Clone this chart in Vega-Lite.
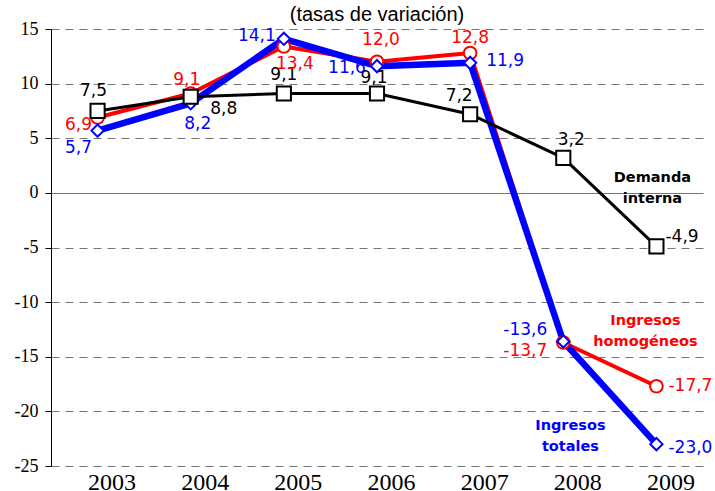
{
  "$schema": "https://vega.github.io/schema/vega-lite/v6.json",
  "autosize": {"type": "none"},
  "padding": {"left": 51, "top": 29, "right": 12, "bottom": 25},
  "width": 652,
  "height": 437,
  "background": "white",
  "title": {"text": "(tasas de variación)", "font": "Liberation Sans", "fontSize": 20, "fontWeight": "normal", "color": "black", "anchor": "middle", "offset": -5},
  "config": {
    "view": {"stroke": null},
    "locale": {"number": {"decimal": ",", "thousands": ".", "grouping": [3], "currency": ["", " €"], "minus": "-"}}
  },
  "data": {"values": [
    {"anio": "2003", "serie": "Demanda interna", "valor": 7.5},
    {"anio": "2004", "serie": "Demanda interna", "valor": 8.8},
    {"anio": "2005", "serie": "Demanda interna", "valor": 9.1},
    {"anio": "2006", "serie": "Demanda interna", "valor": 9.1},
    {"anio": "2007", "serie": "Demanda interna", "valor": 7.2},
    {"anio": "2008", "serie": "Demanda interna", "valor": 3.2},
    {"anio": "2009", "serie": "Demanda interna", "valor": -4.9},
    {"anio": "2003", "serie": "Ingresos homogéneos", "valor": 6.9},
    {"anio": "2004", "serie": "Ingresos homogéneos", "valor": 9.1},
    {"anio": "2005", "serie": "Ingresos homogéneos", "valor": 13.4},
    {"anio": "2006", "serie": "Ingresos homogéneos", "valor": 12.0},
    {"anio": "2007", "serie": "Ingresos homogéneos", "valor": 12.8},
    {"anio": "2008", "serie": "Ingresos homogéneos", "valor": -13.7},
    {"anio": "2009", "serie": "Ingresos homogéneos", "valor": -17.7},
    {"anio": "2003", "serie": "Ingresos totales", "valor": 5.7},
    {"anio": "2004", "serie": "Ingresos totales", "valor": 8.2},
    {"anio": "2005", "serie": "Ingresos totales", "valor": 14.1},
    {"anio": "2006", "serie": "Ingresos totales", "valor": 11.6},
    {"anio": "2007", "serie": "Ingresos totales", "valor": 11.9},
    {"anio": "2008", "serie": "Ingresos totales", "valor": -13.6},
    {"anio": "2009", "serie": "Ingresos totales", "valor": -23.0}
  ]},
  "encoding": {
    "x": {"field": "anio", "type": "ordinal", "scale": {"type": "point", "padding": 0.5},
      "axis": {"title": null, "domain": false, "ticks": false, "grid": false, "labelAngle": 0, "labelFont": "serif", "labelFontSize": 24, "labelColor": "black", "labelOffset": 14, "labelPadding": 4}},
    "y": {"field": "valor", "type": "quantitative", "scale": {"domain": [-25, 15], "nice": false, "zero": false},
      "axis": {"title": null, "values": [-25, -20, -15, -10, -5, 0, 5, 10, 15], "labelFont": "serif", "labelFontSize": 18, "labelColor": "black", "labelPadding": 7, "domainColor": "black", "domainWidth": 1, "tickColor": "black", "tickSize": 6, "grid": true, "gridColor": "#777777", "gridWidth": 1,
        "gridDash": {"condition": {"test": "datum.value === 0", "value": []}, "value": [8, 6]}}}
  },
  "layer": [
    {"transform": [{"filter": "datum.serie === 'Ingresos homogéneos'"}], "mark": {"type": "line", "color": "#ff0000", "strokeWidth": 4, "strokeJoin": "round"}},
    {"transform": [{"filter": "datum.serie === 'Ingresos totales'"}], "mark": {"type": "line", "color": "#0000ff", "strokeWidth": 6.5, "strokeJoin": "round"}},
    {"transform": [{"filter": "datum.serie === 'Demanda interna'"}], "mark": {"type": "line", "color": "#000000", "strokeWidth": 3, "strokeJoin": "round"}},
    {"transform": [{"filter": "datum.serie === 'Ingresos homogéneos'"}], "mark": {"type": "point", "shape": "circle", "filled": true, "fill": "white", "stroke": "#ff0000", "strokeWidth": 2, "size": 160, "opacity": 1}},
    {"transform": [{"filter": "datum.serie === 'Ingresos totales'"}], "mark": {"type": "point", "shape": "diamond", "filled": true, "fill": "white", "stroke": "#0000ff", "strokeWidth": 2, "size": 150, "opacity": 1}},
    {"transform": [{"filter": "datum.serie === 'Demanda interna'"}], "mark": {"type": "point", "shape": "square", "filled": true, "fill": "white", "stroke": "#000000", "strokeWidth": 2, "size": 200, "opacity": 1}},

    {"transform": [{"filter": "datum.serie === 'Demanda interna' && datum.anio === '2003'"}], "mark": {"type": "text", "dx": -4, "dy": -20, "font": "DejaVu Sans", "fontSize": 17, "color": "#000000"}, "encoding": {"text": {"field": "valor", "type": "quantitative", "format": ".1f"}}},
    {"transform": [{"filter": "datum.serie === 'Demanda interna' && datum.anio === '2004'"}], "mark": {"type": "text", "dx": 33, "dy": 12, "font": "DejaVu Sans", "fontSize": 17, "color": "#000000"}, "encoding": {"text": {"field": "valor", "type": "quantitative", "format": ".1f"}}},
    {"transform": [{"filter": "datum.serie === 'Demanda interna' && datum.anio === '2005'"}], "mark": {"type": "text", "dx": 0, "dy": -18, "font": "DejaVu Sans", "fontSize": 17, "color": "#000000"}, "encoding": {"text": {"field": "valor", "type": "quantitative", "format": ".1f"}}},
    {"transform": [{"filter": "datum.serie === 'Demanda interna' && datum.anio === '2006'"}], "mark": {"type": "text", "dx": -3, "dy": -15, "font": "DejaVu Sans", "fontSize": 17, "color": "#000000"}, "encoding": {"text": {"field": "valor", "type": "quantitative", "format": ".1f"}}},
    {"transform": [{"filter": "datum.serie === 'Demanda interna' && datum.anio === '2007'"}], "mark": {"type": "text", "dx": -11, "dy": -18, "font": "DejaVu Sans", "fontSize": 17, "color": "#000000"}, "encoding": {"text": {"field": "valor", "type": "quantitative", "format": ".1f"}}},
    {"transform": [{"filter": "datum.serie === 'Demanda interna' && datum.anio === '2008'"}], "mark": {"type": "text", "dx": 8, "dy": -18, "font": "DejaVu Sans", "fontSize": 17, "color": "#000000"}, "encoding": {"text": {"field": "valor", "type": "quantitative", "format": ".1f"}}},
    {"transform": [{"filter": "datum.serie === 'Demanda interna' && datum.anio === '2009'"}], "mark": {"type": "text", "align": "left", "dx": 9, "dy": -9, "font": "DejaVu Sans", "fontSize": 17, "color": "#000000"}, "encoding": {"text": {"field": "valor", "type": "quantitative", "format": ".1f"}}},

    {"transform": [{"filter": "datum.serie === 'Ingresos homogéneos' && datum.anio === '2003'"}], "mark": {"type": "text", "dx": -19, "dy": 8, "font": "DejaVu Sans", "fontSize": 17, "color": "#ff0000"}, "encoding": {"text": {"field": "valor", "type": "quantitative", "format": ".1f"}}},
    {"transform": [{"filter": "datum.serie === 'Ingresos homogéneos' && datum.anio === '2004'"}], "mark": {"type": "text", "dx": -4, "dy": -13, "font": "DejaVu Sans", "fontSize": 17, "color": "#ff0000"}, "encoding": {"text": {"field": "valor", "type": "quantitative", "format": ".1f"}}},
    {"transform": [{"filter": "datum.serie === 'Ingresos homogéneos' && datum.anio === '2005'"}], "mark": {"type": "text", "dx": 11, "dy": 18, "font": "DejaVu Sans", "fontSize": 17, "color": "#ff0000"}, "encoding": {"text": {"field": "valor", "type": "quantitative", "format": ".1f"}}},
    {"transform": [{"filter": "datum.serie === 'Ingresos homogéneos' && datum.anio === '2006'"}], "mark": {"type": "text", "dx": 4, "dy": -22, "font": "DejaVu Sans", "fontSize": 17, "color": "#ff0000"}, "encoding": {"text": {"field": "valor", "type": "quantitative", "format": ".1f"}}},
    {"transform": [{"filter": "datum.serie === 'Ingresos homogéneos' && datum.anio === '2007'"}], "mark": {"type": "text", "dx": 0, "dy": -15, "font": "DejaVu Sans", "fontSize": 17, "color": "#ff0000"}, "encoding": {"text": {"field": "valor", "type": "quantitative", "format": ".1f"}}},
    {"transform": [{"filter": "datum.serie === 'Ingresos homogéneos' && datum.anio === '2008'"}], "mark": {"type": "text", "dx": -38, "dy": 8, "font": "DejaVu Sans", "fontSize": 17, "color": "#ff0000"}, "encoding": {"text": {"field": "valor", "type": "quantitative", "format": ".1f"}}},
    {"transform": [{"filter": "datum.serie === 'Ingresos homogéneos' && datum.anio === '2009'"}], "mark": {"type": "text", "align": "left", "dx": 12, "dy": 0, "font": "DejaVu Sans", "fontSize": 17, "color": "#ff0000"}, "encoding": {"text": {"field": "valor", "type": "quantitative", "format": ".1f"}}},

    {"transform": [{"filter": "datum.serie === 'Ingresos totales' && datum.anio === '2003'"}], "mark": {"type": "text", "dx": -19, "dy": 17, "font": "DejaVu Sans", "fontSize": 17, "color": "#0000ff"}, "encoding": {"text": {"field": "valor", "type": "quantitative", "format": ".1f"}}},
    {"transform": [{"filter": "datum.serie === 'Ingresos totales' && datum.anio === '2004'"}], "mark": {"type": "text", "dx": 7, "dy": 21, "font": "DejaVu Sans", "fontSize": 17, "color": "#0000ff"}, "encoding": {"text": {"field": "valor", "type": "quantitative", "format": ".1f"}}},
    {"transform": [{"filter": "datum.serie === 'Ingresos totales' && datum.anio === '2005'"}], "mark": {"type": "text", "dx": -27, "dy": -3, "font": "DejaVu Sans", "fontSize": 17, "color": "#0000ff"}, "encoding": {"text": {"field": "valor", "type": "quantitative", "format": ".1f"}}},
    {"transform": [{"filter": "datum.serie === 'Ingresos totales' && datum.anio === '2006'"}], "mark": {"type": "text", "dx": -30, "dy": 2, "font": "DejaVu Sans", "fontSize": 17, "color": "#0000ff"}, "encoding": {"text": {"field": "valor", "type": "quantitative", "format": ".1f"}}},
    {"transform": [{"filter": "datum.serie === 'Ingresos totales' && datum.anio === '2007'"}], "mark": {"type": "text", "dx": 35, "dy": -2, "font": "DejaVu Sans", "fontSize": 17, "color": "#0000ff"}, "encoding": {"text": {"field": "valor", "type": "quantitative", "format": ".1f"}}},
    {"transform": [{"filter": "datum.serie === 'Ingresos totales' && datum.anio === '2008'"}], "mark": {"type": "text", "dx": -38, "dy": -11, "font": "DejaVu Sans", "fontSize": 17, "color": "#0000ff"}, "encoding": {"text": {"field": "valor", "type": "quantitative", "format": ".1f"}}},
    {"transform": [{"filter": "datum.serie === 'Ingresos totales' && datum.anio === '2009'"}], "mark": {"type": "text", "align": "left", "dx": 12, "dy": 4, "font": "DejaVu Sans", "fontSize": 17, "color": "#0000ff"}, "encoding": {"text": {"field": "valor", "type": "quantitative", "format": ".1f"}}},

    {"transform": [{"filter": "datum.serie === 'Demanda interna' && datum.anio === '2009'"}], "mark": {"type": "text", "align": "center", "baseline": "alphabetic", "dx": -4, "dy": -64.5, "lineHeight": 21, "font": "DejaVu Sans", "fontWeight": "bold", "fontSize": 14.5, "color": "#000000"}, "encoding": {"text": {"value": ["Demanda", "interna"]}}},
    {"transform": [{"filter": "datum.serie === 'Ingresos homogéneos' && datum.anio === '2009'"}], "mark": {"type": "text", "align": "center", "baseline": "alphabetic", "dx": -11, "dy": -61.5, "lineHeight": 21, "font": "DejaVu Sans", "fontWeight": "bold", "fontSize": 14.5, "color": "#ff0000"}, "encoding": {"text": {"value": ["Ingresos", "homogéneos"]}}},
    {"transform": [{"filter": "datum.serie === 'Ingresos totales' && datum.anio === '2009'"}], "mark": {"type": "text", "align": "center", "baseline": "alphabetic", "dx": -86, "dy": -14, "lineHeight": 21, "font": "DejaVu Sans", "fontWeight": "bold", "fontSize": 14.5, "color": "#0000ff"}, "encoding": {"text": {"value": ["Ingresos", "totales"]}}}
  ]
}
